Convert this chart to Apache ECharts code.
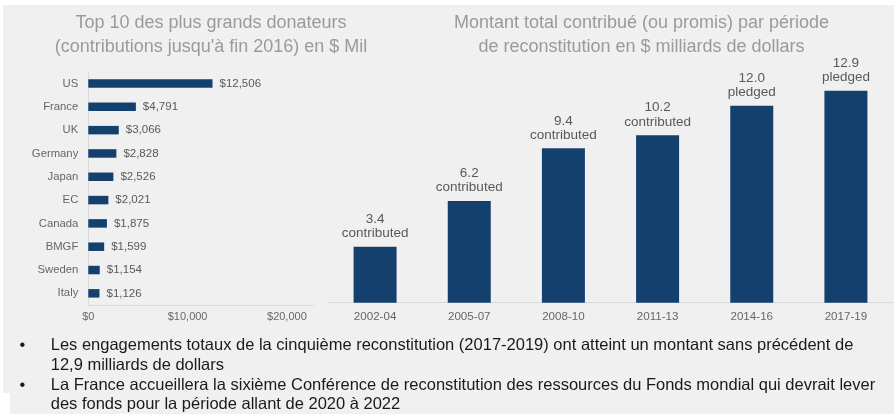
<!DOCTYPE html>
<html>
<head>
<meta charset="utf-8">
<script src="https://cdn.jsdelivr.net/npm/echarts@6/dist/echarts.min.js"></script>
<style>
html,body{margin:0;padding:0;background:#fff;}
#c{width:894px;height:414px;}
</style>
</head>
<body>
<div id="c"></div>
<script>
const donors = ['US','France','UK','Germany','Japan','EC','Canada','BMGF','Sweden','Italy'];
const donorValues = [12506,4791,3066,2828,2526,2021,1875,1599,1154,1126];
const donorTicks = [0,10000,20000];
const periods = ['2002-04','2005-07','2008-10','2011-13','2014-16','2017-19'];
const periodValues = [3.4,6.2,9.4,10.2,12.0,12.9];
const periodStatus = ['contributed','contributed','contributed','contributed','pledged','pledged'];
const leftTitle = 'Top 10 des plus grands donateurs\n(contributions jusqu\'à fin 2016) en $ Mil';
const rightTitle = 'Montant total contribué (ou promis) par période\nde reconstitution en $ milliards de dollars';
const bulletLines = [
  'Les engagements totaux de la cinquième reconstitution (2017-2019) ont atteint un montant sans précédent de',
  '12,9 milliards de dollars',
  'La France accueillera la sixième Conférence de reconstitution des ressources du Fonds mondial qui devrait lever',
  'des fonds pour la période allant de 2020 à 2022'
];

const FONT = '"Liberation Sans", Arial, sans-serif';
const BAR = '#14406e';
const AXIS = '#d9d9d9';

const chart = echarts.init(document.getElementById('c'), null, {renderer:'canvas'});
const fmt = v => '$' + v.toLocaleString('en-US');

const lineY = [345.5, 365.3, 385, 404.6];
const graphics = [
  {type:'rect', z:-10, silent:true, shape:{x:3,y:5,width:891,height:409}, style:{fill:'#f0f0f0'}},
  {type:'rect', z:-10, silent:true, shape:{x:0,y:393,width:10,height:21}, style:{fill:'#ffffff'}}
];
bulletLines.forEach((t,i)=>{
  graphics.push({type:'text', z:10, style:{text:t, x:50.7, y:lineY[i], fill:'#1a1a1a', font:'16.5px ' + FONT, verticalAlign:'middle', align:'left'}});
});
[0,2].forEach(i=>{
  graphics.push({type:'text', z:10, style:{text:'•', x:22.5, y:lineY[i], fill:'#1a1a1a', font:'16.5px ' + FONT, verticalAlign:'middle', align:'center'}});
});

chart.setOption({
  backgroundColor:'#ffffff',
  animation:false,
  textStyle:{fontFamily:FONT},
  title:[
    {text:leftTitle, left:211, top:11.5, padding:0, textAlign:'center',
     textStyle:{fontSize:18, lineHeight:23.5, color:'#9a9a9a', fontWeight:'normal', fontFamily:FONT}},
    {text:rightTitle, left:641.5, top:11.5, padding:0, textAlign:'center',
     textStyle:{fontSize:18, lineHeight:23.5, color:'#9a9a9a', fontWeight:'normal', fontFamily:FONT}}
  ],
  graphic:graphics,
  grid:[
    {left:88.3, top:71.85, width:226, height:233.15, containLabel:false},
    {left:328, top:72.8, width:565, height:229.9, containLabel:false}
  ],
  xAxis:[
    {type:'value', gridIndex:0, min:0, max:22760, interval:10000,
     axisLine:{show:true, lineStyle:{color:AXIS, width:1}},
     axisTick:{show:false}, splitLine:{show:false},
     axisLabel:{margin:6, fontSize:11, color:'#666', fontFamily:FONT,
       formatter: v => donorTicks.includes(v) ? fmt(v) : ''}},
    {type:'category', gridIndex:1, data:periods,
     axisLine:{show:true, lineStyle:{color:AXIS, width:1}},
     axisTick:{show:false},
     axisLabel:{margin:8.5, fontSize:11.6, color:'#666', fontFamily:FONT}}
  ],
  yAxis:[
    {type:'category', gridIndex:0, data:donors, inverse:true,
     axisLine:{show:true, lineStyle:{color:AXIS, width:1}},
     axisTick:{show:false},
     axisLabel:{margin:10, fontSize:11.3, color:'#666', fontFamily:FONT}},
    {type:'value', gridIndex:1, min:0, max:14, show:false, splitLine:{show:false}}
  ],
  series:[
    {type:'bar', xAxisIndex:0, yAxisIndex:0, data:donorValues, barWidth:8.5,
     itemStyle:{color:BAR},
     label:{show:true, position:'right', distance:7, fontSize:11.5, color:'#595959', fontFamily:FONT,
       formatter: p => fmt(p.value)}},
    {type:'bar', xAxisIndex:1, yAxisIndex:1, data:periodValues, barWidth:43,
     itemStyle:{color:BAR},
     label:{show:true, position:'top', distance:6, fontSize:13.5, lineHeight:14.3, color:'#595959', fontFamily:FONT,
       formatter: p => p.value.toFixed(1) + '\n' + periodStatus[p.dataIndex]}}
  ]
});
</script>
</body>
</html>
